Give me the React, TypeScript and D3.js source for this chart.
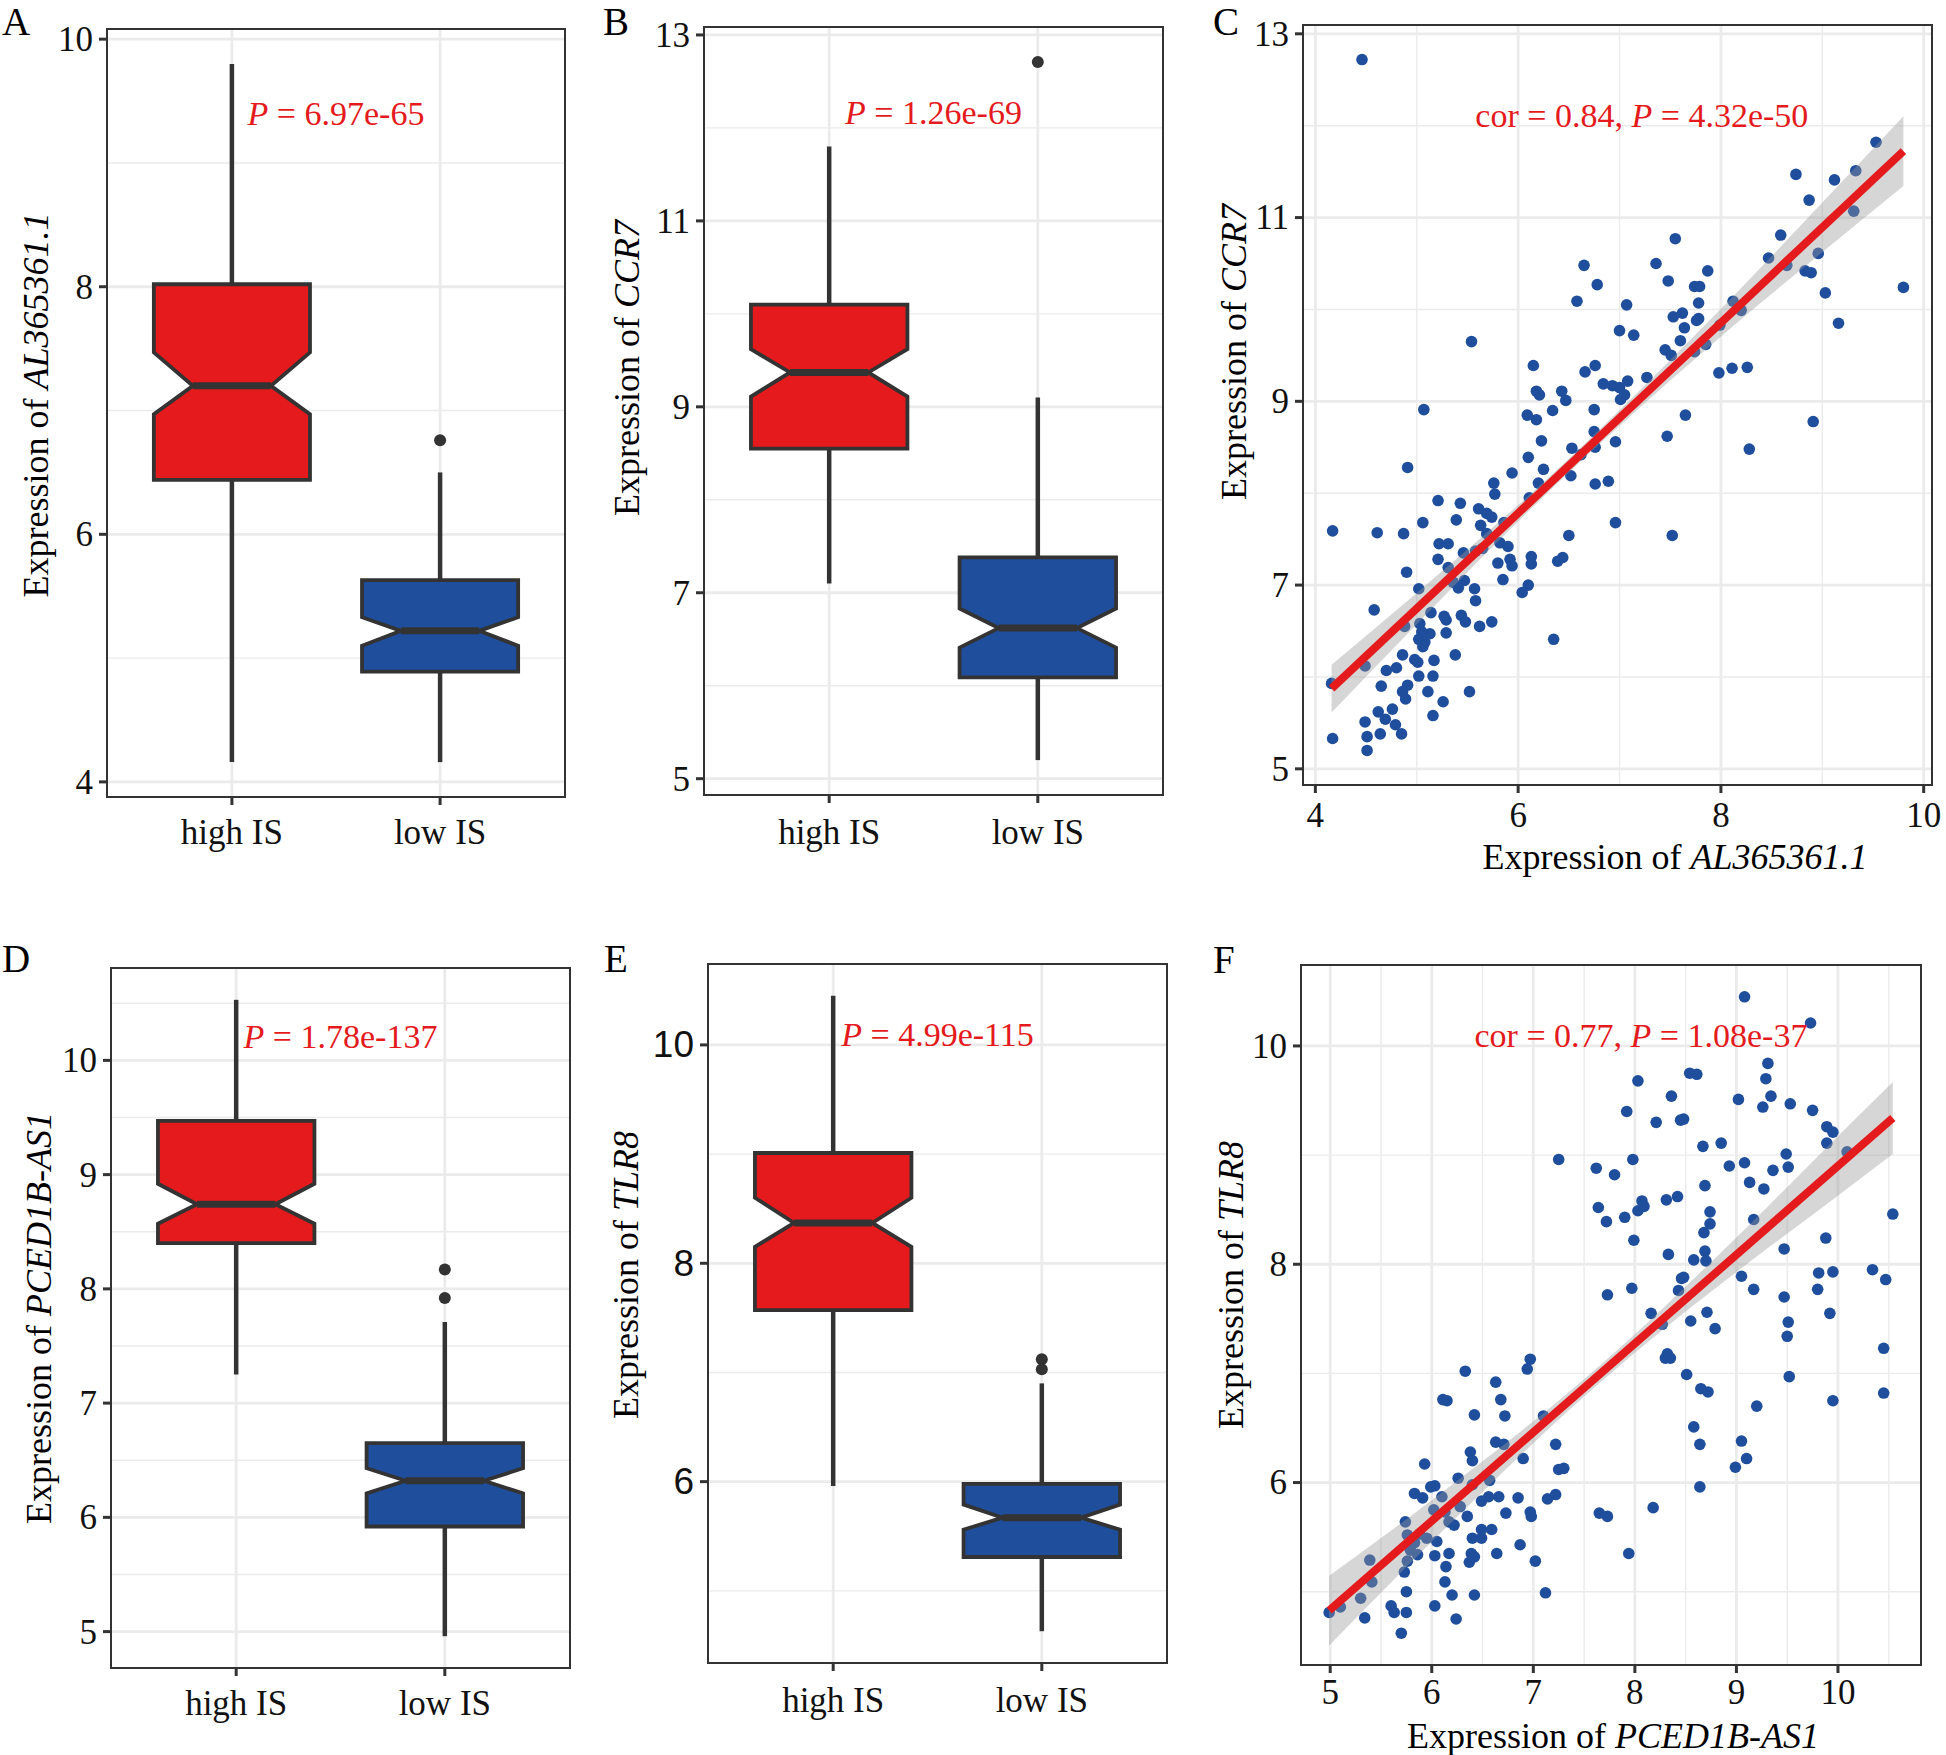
import React from 'react';
import * as d3 from 'd3';

// ---------------- data ----------------
const GROUPS = ['high IS', 'low IS'];

type BoxStat = { lower: number; q1: number; notchLo: number; median: number; notchHi: number; q3: number; upper: number; outliers: number[] };

const boxA: BoxStat[] = [
  { lower: 4.16, q1: 6.44, notchLo: 6.97, median: 7.20, notchHi: 7.47, q3: 8.02, upper: 9.80, outliers: [] },
  { lower: 4.16, q1: 4.89, notchLo: 5.10, median: 5.22, notchHi: 5.33, q3: 5.63, upper: 6.50, outliers: [6.76] },
];
const boxB: BoxStat[] = [
  { lower: 7.10, q1: 8.55, notchLo: 9.11, median: 9.37, notchHi: 9.62, q3: 10.10, upper: 11.80, outliers: [] },
  { lower: 5.20, q1: 6.09, notchLo: 6.41, median: 6.62, notchHi: 6.83, q3: 7.38, upper: 9.10, outliers: [12.71] },
];
const boxD: BoxStat[] = [
  { lower: 7.25, q1: 8.40, notchLo: 8.57, median: 8.74, notchHi: 8.92, q3: 9.47, upper: 10.53, outliers: [] },
  { lower: 4.96, q1: 5.92, notchLo: 6.21, median: 6.32, notchHi: 6.43, q3: 6.65, upper: 7.71, outliers: [8.17, 7.92] },
];
const boxE: BoxStat[] = [
  { lower: 5.96, q1: 7.57, notchLo: 8.15, median: 8.37, notchHi: 8.60, q3: 9.01, upper: 10.45, outliers: [] },
  { lower: 4.63, q1: 5.31, notchLo: 5.56, median: 5.67, notchHi: 5.79, q3: 5.98, upper: 6.90, outliers: [7.12, 7.03] },
];

const yTicksA = [4, 6, 8, 10];
const yTicksB = [5, 7, 9, 11, 13];
const yTicksD = [5, 6, 7, 8, 9, 10];
const yTicksE = [6, 8, 10];

// scatter C: AL365361.1 (x) vs CCR7 (y)
const pointsC: [number, number][] = [
  [4.46, 12.72], [9.53, 11.82], [9.33, 11.51], [8.74, 11.47], [9.12, 11.41], [8.87, 11.19], [9.31, 11.07], [8.59, 10.81],
  [7.55, 10.77], [8.47, 10.56], [8.65, 10.48], [7.36, 10.50], [6.65, 10.48], [8.96, 10.61], [8.83, 10.42], [8.89, 10.40],
  [7.87, 10.42], [7.48, 10.31], [6.78, 10.27], [7.74, 10.25], [7.79, 10.25], [9.80, 10.24], [9.03, 10.18], [6.58, 10.09],
  [7.07, 10.05], [7.78, 10.07], [8.12, 10.09], [7.62, 9.96], [7.53, 9.92], [8.20, 9.99], [7.76, 9.88], [7.78, 9.90],
  [7.64, 9.80], [7.99, 9.83], [9.16, 9.85], [7.00, 9.77], [7.14, 9.72], [5.54, 9.65], [7.60, 9.66], [7.45, 9.56],
  [7.74, 9.54], [7.51, 9.50], [6.15, 9.39], [6.76, 9.39], [6.66, 9.32], [7.98, 9.31], [8.11, 9.36], [8.26, 9.37],
  [7.27, 9.26], [6.84, 9.19], [6.93, 9.17], [7.00, 9.15], [7.08, 9.22], [7.05, 9.07], [7.01, 9.02], [6.18, 9.11],
  [6.21, 9.07], [6.43, 9.11], [6.47, 9.01], [5.07, 8.91], [6.34, 8.90], [6.75, 8.91], [6.09, 8.85], [6.18, 8.80],
  [7.65, 8.85], [8.91, 8.78], [6.75, 8.67], [7.47, 8.62], [6.23, 8.57], [6.96, 8.56], [6.53, 8.49], [6.76, 8.50],
  [8.28, 8.48], [6.10, 8.39], [4.91, 8.28], [6.25, 8.26], [5.94, 8.22], [6.52, 8.19], [5.76, 8.11], [6.20, 8.11],
  [6.89, 8.13], [6.76, 8.10], [5.77, 7.99], [6.11, 7.95], [5.21, 7.92], [5.43, 7.89], [5.61, 7.83], [5.69, 7.78],
  [5.74, 7.74], [5.39, 7.71], [5.06, 7.68], [5.86, 7.68], [6.96, 7.68], [5.63, 7.65], [4.17, 7.59], [4.61, 7.57],
  [4.87, 7.56], [6.50, 7.54], [7.52, 7.54], [5.69, 7.56], [5.22, 7.45], [5.31, 7.45], [5.82, 7.46], [5.90, 7.42],
  [5.46, 7.35], [5.58, 7.37], [5.21, 7.28], [5.92, 7.28], [6.13, 7.31], [5.80, 7.24], [5.94, 7.21], [6.13, 7.23],
  [6.44, 7.30], [6.39, 7.26], [5.31, 7.19], [4.90, 7.14], [5.85, 7.06], [5.36, 7.03], [5.02, 6.96], [5.57, 6.96],
  [5.41, 6.97], [6.10, 7.00], [6.04, 6.92], [5.58, 6.83], [4.58, 6.73], [5.14, 6.70], [5.27, 6.66], [5.29, 6.62],
  [5.44, 6.67], [5.48, 6.60], [5.62, 6.55], [5.74, 6.60], [4.88, 6.55], [5.03, 6.58], [5.05, 6.49], [5.13, 6.47],
  [5.29, 6.48], [5.02, 6.41], [5.08, 6.38], [5.06, 6.33], [6.35, 6.41], [4.49, 6.12], [4.86, 6.24], [4.98, 6.19],
  [5.01, 6.16], [5.17, 6.18], [5.38, 6.24], [4.16, 5.93], [4.70, 6.07], [4.80, 6.10], [5.02, 6.01], [5.16, 6.01],
  [4.65, 5.90], [4.86, 5.84], [4.91, 5.91], [4.89, 5.76], [5.11, 5.84], [5.26, 5.73], [5.52, 5.84], [4.62, 5.62],
  [4.76, 5.65], [4.69, 5.54], [4.49, 5.51], [5.16, 5.58], [4.79, 5.48], [4.85, 5.38], [4.64, 5.38], [4.51, 5.35],
  [4.17, 5.33], [4.51, 5.20], [5.47, 7.05], [5.65, 7.40], [6.62, 8.42], [7.85, 9.62],
];

// scatter F: PCED1B-AS1 (x) vs TLR8 (y)
const pointsF: [number, number][] = [
  [9.08, 10.45], [9.73, 10.21], [9.31, 9.84], [8.54, 9.75], [8.61, 9.74], [9.29, 9.70], [8.03, 9.68], [9.34, 9.54],
  [8.36, 9.54], [9.02, 9.51], [9.53, 9.47], [9.26, 9.44], [7.92, 9.40], [9.75, 9.41], [8.45, 9.32], [8.48, 9.33],
  [8.21, 9.30], [9.89, 9.26], [9.95, 9.21], [8.85, 9.11], [8.67, 9.08], [9.89, 9.11], [10.09, 9.03], [7.25, 8.96],
  [7.98, 8.96], [9.49, 9.01], [9.08, 8.93], [7.62, 8.88], [8.93, 8.90], [9.51, 8.89], [9.36, 8.86], [7.80, 8.82],
  [9.13, 8.75], [8.69, 8.72], [9.27, 8.69], [8.31, 8.59], [8.42, 8.62], [8.07, 8.58], [8.09, 8.53], [8.03, 8.49],
  [7.64, 8.52], [8.74, 8.48], [7.72, 8.39], [7.90, 8.43], [10.54, 8.46], [9.17, 8.41], [8.74, 8.37], [8.68, 8.29],
  [7.99, 8.22], [9.88, 8.24], [9.47, 8.14], [8.33, 8.09], [8.69, 8.12], [8.58, 8.04], [8.70, 8.03], [10.34, 7.95],
  [9.81, 7.92], [9.95, 7.93], [9.05, 7.89], [8.48, 7.88], [8.46, 7.87], [10.47, 7.86], [7.97, 7.78], [9.80, 7.77],
  [9.17, 7.77], [8.43, 7.76], [7.73, 7.72], [9.47, 7.70], [8.71, 7.56], [8.16, 7.55], [9.92, 7.55], [8.55, 7.48],
  [8.27, 7.45], [9.51, 7.47], [8.79, 7.41], [9.50, 7.34], [10.45, 7.23], [8.32, 7.18], [8.35, 7.14], [8.30, 7.14],
  [6.97, 7.13], [6.94, 7.04], [6.33, 7.02], [8.51, 6.99], [9.52, 6.97], [6.63, 6.92], [8.65, 6.86], [8.72, 6.83],
  [10.45, 6.82], [6.11, 6.76], [6.15, 6.75], [6.68, 6.76], [9.95, 6.75], [9.20, 6.70], [6.42, 6.62], [6.72, 6.61],
  [7.10, 6.61], [8.58, 6.51], [9.05, 6.38], [7.22, 6.35], [6.63, 6.37], [6.71, 6.35], [8.64, 6.35], [6.38, 6.28],
  [6.90, 6.22], [6.40, 6.20], [9.10, 6.22], [5.93, 6.17], [8.99, 6.14], [7.25, 6.12], [7.30, 6.13], [6.26, 6.04],
  [6.03, 5.97], [5.99, 5.96], [8.64, 5.96], [6.40, 5.98], [6.57, 6.02], [5.83, 5.90], [5.91, 5.86], [6.10, 5.87],
  [6.66, 5.87], [6.56, 5.87], [7.22, 5.89], [7.14, 5.85], [6.85, 5.86], [6.49, 5.83], [6.02, 5.75], [6.28, 5.78],
  [6.13, 5.73], [6.73, 5.72], [6.97, 5.73], [6.98, 5.69], [7.65, 5.72], [7.73, 5.69], [8.18, 5.77], [6.35, 5.69],
  [5.74, 5.64], [6.17, 5.64], [6.22, 5.61], [6.49, 5.57], [6.59, 5.57], [5.76, 5.52], [5.88, 5.53], [5.95, 5.49],
  [6.40, 5.49], [6.49, 5.49], [6.05, 5.46], [5.83, 5.45], [6.87, 5.43], [5.79, 5.38], [5.86, 5.34], [6.03, 5.33],
  [6.17, 5.35], [6.39, 5.35], [6.64, 5.35], [7.94, 5.35], [5.39, 5.29], [5.76, 5.28], [6.42, 5.32], [6.37, 5.27],
  [7.02, 5.28], [6.14, 5.23], [5.73, 5.18], [5.41, 5.09], [6.13, 5.09], [5.75, 5.00], [6.20, 4.97], [6.42, 4.97],
  [7.12, 4.99], [5.30, 4.94], [5.60, 4.87], [5.63, 4.81], [5.75, 4.81], [6.03, 4.87], [4.99, 4.81], [5.10, 4.86],
  [5.34, 4.76], [6.24, 4.75], [5.70, 4.62],
];

// fitted regression lines and 95% CI half-widths
const fitC = { intercept: 1.56, slope: 1.037 };
const fitF = { intercept: 0.77, slope: 0.813 };
const bandC: [number, number][] = [[4.16, 0.26], [5.0, 0.17], [5.8, 0.10], [6.5, 0.075], [7.3, 0.10], [8.2, 0.17], [9.0, 0.27], [9.80, 0.38]];
const bandF: [number, number][] = [[4.99, 0.32], [5.5, 0.25], [6.0, 0.19], [6.5, 0.14], [7.0, 0.10], [7.7, 0.08], [8.3, 0.10], [8.8, 0.14], [9.3, 0.19], [9.8, 0.25], [10.54, 0.33]];

const xTicksC = [4, 6, 8, 10];
const yTicksC = [5, 7, 9, 11, 13];
const xTicksF = [5, 6, 7, 8, 9, 10];
const yTicksF = [6, 8, 10];

// ---------------- style ----------------
const RED = '#E41A1C';
const BLUE = '#1F4E9D';
const DARK = '#333333';
const GRID = '#EBEBEB';
const SERIF = "'Liberation Serif', 'Times New Roman', serif";
const SANS = "'Liberation Sans', Arial, sans-serif";
const TICK_FS = 35;
const TITLE_FS = 36;
const ANN_FS = 34;
const LETTER_FS = 39;

type Layout = {
  left: number; right: number; top: number; bottom: number;
  letterX: number; letterY: number; yTitleX: number; yTitleY: number; xTickY: number;
  xTitleX?: number; xTitleY?: number;
};

const L_A: Layout = { left: 107, right: 565, top: 29, bottom: 797, letterX: 2, letterY: 35, yTitleX: 48, yTitleY: 405, xTickY: 844 };
const L_B: Layout = { left: 704, right: 1163, top: 27, bottom: 795, letterX: 603, letterY: 35, yTitleX: 639, yTitleY: 368, xTickY: 844 };
const L_C: Layout = { left: 1303, right: 1932, top: 25, bottom: 785, letterX: 1213, letterY: 35, yTitleX: 1246, yTitleY: 352, xTickY: 827, xTitleX: 1675, xTitleY: 869 };
const L_D: Layout = { left: 111, right: 570, top: 968, bottom: 1668, letterX: 2, letterY: 972, yTitleX: 51, yTitleY: 1318, xTickY: 1715 };
const L_E: Layout = { left: 708, right: 1167, top: 964, bottom: 1663, letterX: 604, letterY: 972, yTitleX: 638, yTitleY: 1275, xTickY: 1712 };
const L_F: Layout = { left: 1301, right: 1921, top: 965, bottom: 1665, letterX: 1213, letterY: 973, yTitleX: 1243, yTitleY: 1285, xTickY: 1704, xTitleX: 1613, xTitleY: 1748 };

function minorBreaks(ticks: number[], domain: number[]) {
  const step = ticks[1] - ticks[0];
  const out: number[] = [];
  for (let v = ticks[0] - step / 2; v <= ticks[ticks.length - 1] + step / 2 + 1e-9; v += step) {
    if (v >= domain[0] && v <= domain[1]) out.push(v);
  }
  return out;
}

function expand(lo: number, hi: number): [number, number] {
  const p = (hi - lo) * 0.05;
  return [lo - p, hi + p];
}

function YTitle({ L, gene }: { L: Layout; gene: string }) {
  return (
    <text transform={`translate(${L.yTitleX},${L.yTitleY}) rotate(-90)`} textAnchor="middle" fontFamily={SERIF} fontSize={TITLE_FS} fill="#000">
      {'Expression of '}<tspan fontStyle="italic">{gene}</tspan>
    </text>
  );
}

function Letter({ L, letter }: { L: Layout; letter: string }) {
  return <text x={L.letterX} y={L.letterY} fontFamily={SERIF} fontSize={LETTER_FS} fill="#000">{letter}</text>;
}

function YAxis({ L, y, ticks, font, fs }: { L: Layout; y: d3.ScaleLinear<number, number>; ticks: number[]; font: string; fs: number }) {
  return (
    <g>
      {ticks.map((v) => (
        <g key={'yt' + v}>
          <line x1={L.left - 8} x2={L.left} y1={y(v)} y2={y(v)} stroke={DARK} strokeWidth={3} />
          <text x={L.left - 14} y={y(v)} dy="0.34em" textAnchor="end" fontFamily={font} fontSize={fs} fill="#111">{v}</text>
        </g>
      ))}
    </g>
  );
}

function BoxPanel({ L, letter, stats, yTicks, gene, pLabel, pY, sans }: {
  L: Layout; letter: string; stats: BoxStat[]; yTicks: number[]; gene: string; pLabel: string; pY: number; sans?: boolean;
}) {
  const vals = stats.flatMap((s) => [s.lower, s.upper, ...s.outliers]);
  const dom = expand(d3.min(vals)!, d3.max(vals)!);
  const y = d3.scaleLinear().domain(dom).range([L.bottom, L.top]);
  const x = d3.scaleLinear().domain([0.4, 2.6]).range([L.left, L.right]);
  const minors = minorBreaks(yTicks, dom);
  const hw = 0.375;
  const nw = hw * 0.5;
  return (
    <g>
      <rect x={L.left} y={L.top} width={L.right - L.left} height={L.bottom - L.top} fill="#fff" />
      {minors.map((v) => <line key={'mn' + v} x1={L.left} x2={L.right} y1={y(v)} y2={y(v)} stroke={GRID} strokeWidth={1.4} />)}
      {yTicks.map((v) => <line key={'mj' + v} x1={L.left} x2={L.right} y1={y(v)} y2={y(v)} stroke={GRID} strokeWidth={2.8} />)}
      {GROUPS.map((g, i) => <line key={'vg' + g} x1={x(i + 1)} x2={x(i + 1)} y1={L.top} y2={L.bottom} stroke={GRID} strokeWidth={2.8} />)}
      {stats.map((s, i) => {
        const c = i + 1;
        const path = d3.path();
        path.moveTo(x(c - hw), y(s.q3));
        path.lineTo(x(c + hw), y(s.q3));
        path.lineTo(x(c + hw), y(s.notchHi));
        path.lineTo(x(c + nw), y(s.median));
        path.lineTo(x(c + hw), y(s.notchLo));
        path.lineTo(x(c + hw), y(s.q1));
        path.lineTo(x(c - hw), y(s.q1));
        path.lineTo(x(c - hw), y(s.notchLo));
        path.lineTo(x(c - nw), y(s.median));
        path.lineTo(x(c - hw), y(s.notchHi));
        path.closePath();
        return (
          <g key={'box' + i}>
            <line x1={x(c)} x2={x(c)} y1={y(s.upper)} y2={y(s.q3)} stroke={DARK} strokeWidth={4.5} />
            <line x1={x(c)} x2={x(c)} y1={y(s.q1)} y2={y(s.lower)} stroke={DARK} strokeWidth={4.5} />
            <path d={path.toString()} fill={i === 0 ? RED : BLUE} stroke={DARK} strokeWidth={3.8} strokeLinejoin="miter" />
            <line x1={x(c - nw)} x2={x(c + nw)} y1={y(s.median)} y2={y(s.median)} stroke={DARK} strokeWidth={7} />
            {s.outliers.map((o, k) => <circle key={'o' + k} cx={x(c)} cy={y(o)} r={6} fill={DARK} />)}
          </g>
        );
      })}
      <text x={x(1.5)} y={y(pY)} dy="0.35em" textAnchor="middle" fontFamily={SERIF} fontSize={ANN_FS} fill={RED}>
        <tspan fontStyle="italic">P</tspan>{' = ' + pLabel}
      </text>
      <rect x={L.left} y={L.top} width={L.right - L.left} height={L.bottom - L.top} fill="none" stroke={DARK} strokeWidth={2} />
      <YAxis L={L} y={y} ticks={yTicks} font={sans ? SANS : SERIF} fs={sans ? 37 : TICK_FS} />
      {GROUPS.map((g, i) => (
        <g key={'xt' + g}>
          <line x1={x(i + 1)} x2={x(i + 1)} y1={L.bottom} y2={L.bottom + 8} stroke={DARK} strokeWidth={3} />
          <text x={x(i + 1)} y={L.xTickY} textAnchor="middle" fontFamily={SERIF} fontSize={TICK_FS} fill="#111">{g}</text>
        </g>
      ))}
      <YTitle L={L} gene={gene} />
      <Letter L={L} letter={letter} />
    </g>
  );
}

function ScatterPanel({ L, letter, pts, fit, band, xTicks, yTicks, xGene, yGene, cor, pLabel, labX, labY }: {
  L: Layout; letter: string; pts: [number, number][]; fit: { intercept: number; slope: number }; band: [number, number][];
  xTicks: number[]; yTicks: number[]; xGene: string; yGene: string; cor: string; pLabel: string; labX: number; labY: number;
}) {
  const xd = expand(d3.min(pts, (p) => p[0])!, d3.max(pts, (p) => p[0])!);
  const yd = expand(d3.min(pts, (p) => p[1])!, d3.max(pts, (p) => p[1])!);
  const x = d3.scaleLinear().domain(xd).range([L.left, L.right]);
  const y = d3.scaleLinear().domain(yd).range([L.bottom, L.top]);
  const xMin = minorBreaks(xTicks, xd);
  const yMin = minorBreaks(yTicks, yd);
  const f = (v: number) => fit.intercept + fit.slope * v;
  const area = d3.area<[number, number]>()
    .x((d) => x(d[0]))
    .y0((d) => y(f(d[0]) - d[1]))
    .y1((d) => y(f(d[0]) + d[1]))
    .curve(d3.curveMonotoneX);
  const xr = d3.extent(pts, (p) => p[0]) as [number, number];
  const line = d3.line<number>().x((v) => x(v)).y((v) => y(f(v)));
  return (
    <g>
      <rect x={L.left} y={L.top} width={L.right - L.left} height={L.bottom - L.top} fill="#fff" />
      {yMin.map((v) => <line key={'ymn' + v} x1={L.left} x2={L.right} y1={y(v)} y2={y(v)} stroke={GRID} strokeWidth={1.4} />)}
      {xMin.map((v) => <line key={'xmn' + v} x1={x(v)} x2={x(v)} y1={L.top} y2={L.bottom} stroke={GRID} strokeWidth={1.4} />)}
      {yTicks.map((v) => <line key={'ymj' + v} x1={L.left} x2={L.right} y1={y(v)} y2={y(v)} stroke={GRID} strokeWidth={2.8} />)}
      {xTicks.map((v) => <line key={'xmj' + v} x1={x(v)} x2={x(v)} y1={L.top} y2={L.bottom} stroke={GRID} strokeWidth={2.8} />)}
      {pts.map((p, i) => <circle key={'p' + i} cx={x(p[0])} cy={y(p[1])} r={5.8} fill={BLUE} />)}
      <path d={area(band) || ''} fill="#999999" fillOpacity={0.4} />
      <path d={line(xr) || ''} stroke={RED} strokeWidth={8} fill="none" />
      <text x={x(labX)} y={y(labY)} dy="0.35em" textAnchor="middle" fontFamily={SERIF} fontSize={ANN_FS} fill={RED}>
        {'cor = ' + cor + ', '}<tspan fontStyle="italic">P</tspan>{' = ' + pLabel}
      </text>
      <rect x={L.left} y={L.top} width={L.right - L.left} height={L.bottom - L.top} fill="none" stroke={DARK} strokeWidth={2} />
      <YAxis L={L} y={y} ticks={yTicks} font={SERIF} fs={TICK_FS} />
      {xTicks.map((v) => (
        <g key={'xt' + v}>
          <line x1={x(v)} x2={x(v)} y1={L.bottom} y2={L.bottom + 8} stroke={DARK} strokeWidth={3} />
          <text x={x(v)} y={L.xTickY} textAnchor="middle" fontFamily={SERIF} fontSize={TICK_FS} fill="#111">{v}</text>
        </g>
      ))}
      <text x={L.xTitleX} y={L.xTitleY} textAnchor="middle" fontFamily={SERIF} fontSize={TITLE_FS} fill="#000">
        {'Expression of '}<tspan fontStyle="italic">{xGene}</tspan>
      </text>
      <YTitle L={L} gene={yGene} />
      <Letter L={L} letter={letter} />
    </g>
  );
}

export default function App() {
  return (
    <svg width={1946} height={1755} style={{ position: 'absolute', left: 0, top: 0, background: '#fff' }}>
      <rect x={0} y={0} width={1946} height={1755} fill="#fff" />
      <BoxPanel L={L_A} letter="A" stats={boxA} yTicks={yTicksA} gene="AL365361.1" pLabel="6.97e-65" pY={9.40} />
      <BoxPanel L={L_B} letter="B" stats={boxB} yTicks={yTicksB} gene="CCR7" pLabel="1.26e-69" pY={12.17} />
      <ScatterPanel L={L_C} letter="C" pts={pointsC} fit={fitC} band={bandC} xTicks={xTicksC} yTicks={yTicksC}
        xGene="AL365361.1" yGene="CCR7" cor="0.84" pLabel="4.32e-50" labX={7.22} labY={12.12} />
      <BoxPanel L={L_D} letter="D" stats={boxD} yTicks={yTicksD} gene="PCED1B-AS1" pLabel="1.78e-137" pY={10.21} />
      <BoxPanel L={L_E} letter="E" stats={boxE} yTicks={yTicksE} gene="TLR8" pLabel="4.99e-115" pY={10.10} sans />
      <ScatterPanel L={L_F} letter="F" pts={pointsF} fit={fitF} band={bandF} xTicks={xTicksF} yTicks={yTicksF}
        xGene="PCED1B-AS1" yGene="TLR8" cor="0.77" pLabel="1.08e-37" labX={8.06} labY={10.10} />
    </svg>
  );
}
